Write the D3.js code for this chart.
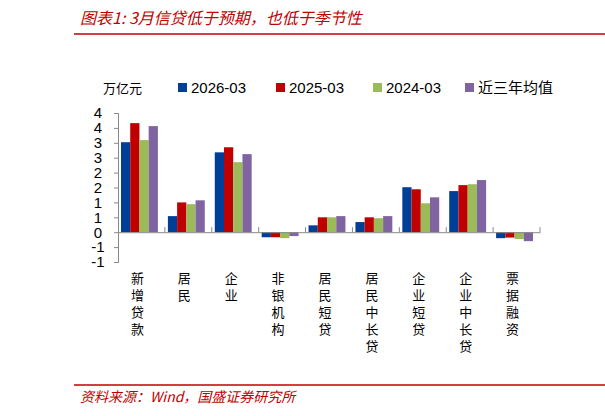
<!DOCTYPE html><html><head><meta charset="utf-8"><script src="https://cdn.jsdelivr.net/npm/d3@7"></script>
<style>body{margin:0;background:#fff}svg{font-family:"Noto Sans CJK SC",sans-serif}</style></head><body><svg width="605" height="416"></svg><script>
const categories=["新增贷款","居民","企业","非银机构","居民短贷","居民中长贷","企业短贷","企业中长贷","票据融资"];
const seriesNames=["2026-03","2025-03","2024-03","近三年均值"];
const colors=["#003f98","#c00000","#9bbb59","#8064a2"];
const s2026=[3.02,0.54,2.68,-0.17,0.23,0.34,1.51,1.38,-0.2];
const s2025=[3.66,1.0,2.85,-0.17,0.5,0.5,1.44,1.58,-0.18];
const s2024=[3.09,0.94,2.35,-0.2,0.5,0.47,0.97,1.61,-0.23];
const sAvg=[3.56,1.07,2.62,-0.13,0.54,0.54,1.17,1.75,-0.3];
const yTicks=[4,3.5,3,2.5,2,1.5,1,0.5,0,-0.5,-1];
const series=[s2026,s2025,s2024,sAvg];
const svg=d3.select("svg");
svg.append("text").attr("x",80).attr("y",24).attr("fill","#c00000").attr("font-size",16).attr("font-style","italic").text("图表1:  3月信贷低于预期，也低于季节性");
svg.append("line").attr("x1",74).attr("x2",605).attr("y1",34).attr("y2",34).attr("stroke","#c00000").attr("stroke-width",1.5);
svg.append("line").attr("x1",74).attr("x2",605).attr("y1",385).attr("y2",385).attr("stroke","#c00000").attr("stroke-width",1.5);
svg.append("text").attr("x",80).attr("y",402).attr("fill","#c00000").attr("font-size",14).attr("font-style","italic").text("资料来源：Wind，国盛证券研究所");
const y=d3.scaleLinear().domain([-1,4]).range([262,113]);
const x=d3.scaleBand().domain(categories).range([118,540]);
const x1=d3.scaleBand().domain(d3.range(4)).range([3,x.bandwidth()-7]).padding(0);
const ya=svg.append("g").attr("transform","translate(118,0)").call(d3.axisLeft(y).tickValues(yTicks).tickSize(4).tickFormat(d=>String(Math.sign(d)*Math.round(Math.abs(d)))));
ya.selectAll("path,line").attr("stroke","#888");ya.selectAll("text").attr("font-size",15).attr("fill","#000").attr("font-family","Liberation Sans,sans-serif").attr("x",-20).attr("text-anchor","middle");
const g=svg.append("g");
categories.forEach((c,i)=>series.forEach((s,j)=>{const v=s[i];g.append("rect").attr("x",x(c)+x1(j)).attr("width",x1.bandwidth()).attr("y",y(Math.max(0,v))).attr("height",Math.abs(y(v)-y(0))).attr("fill",colors[j]);}));
const xa=svg.append("g").attr("transform",`translate(0,${y(0)})`).call(d3.axisBottom(x).tickSize(0).tickFormat(""));
xa.select("path").attr("stroke","#888");
categories.forEach((c,i)=>{xa.append("line").attr("x1",x(c)+x.bandwidth()).attr("x2",x(c)+x.bandwidth()).attr("y1",0).attr("y2",-5).attr("stroke","#888");
 [...c].forEach((ch,k)=>svg.append("text").attr("font-size",13).attr("text-anchor","middle").attr("x",x(c)+x.bandwidth()/2-4).attr("y",283+k*17).text(ch));});
svg.append("text").attr("x",103).attr("y",93).attr("font-size",13).text("万亿元");
const lx=[178,276,373,465];
seriesNames.forEach((n,j)=>{svg.append("rect").attr("x",lx[j]).attr("y",83).attr("width",9).attr("height",9).attr("fill",colors[j]);
 svg.append("text").attr("x",lx[j]+13).attr("y",93).attr("font-size",15).attr("font-family",j<3?"Liberation Sans,sans-serif":"Noto Sans CJK SC").text(n);});
</script></body></html>
